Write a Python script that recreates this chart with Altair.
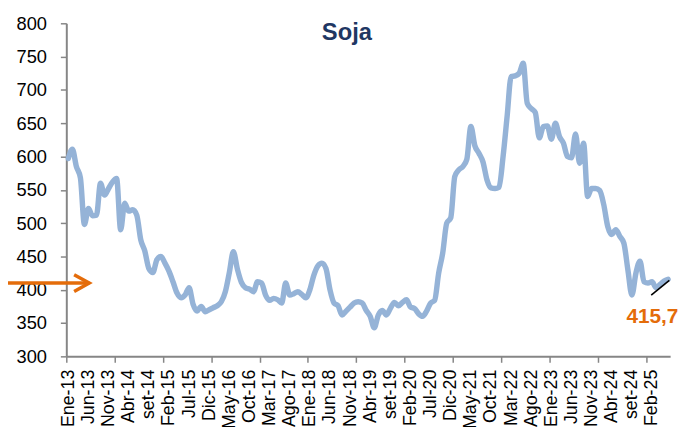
import json
import altair as alt
import pandas as pd

# ---------------- data ----------------
# Monthly soybean price, Jan-2013 .. Jun-2025 (index 0 = Ene-13)
prices = [
    597, 611, 585, 568, 498, 522, 511, 512, 560, 542, 552, 562,   # 2013
    567, 490, 530, 518, 520, 512, 475, 458, 432, 426, 445, 450,   # 2014
    440, 428, 412, 395, 388, 392, 403, 378, 368, 375, 367, 370,   # 2015
    373, 376, 382, 397, 426, 457, 431, 411, 403, 401, 397, 412,   # 2016
    410, 392, 384, 387, 385, 380, 410, 392, 394, 397, 393, 388,   # 2017
    400, 422, 436, 440, 432, 400, 380, 376, 362, 368, 374, 380,   # 2018
    382, 380, 369, 360, 343, 362, 369, 362, 372, 381, 376, 381,   # 2019
    385, 374, 372, 364, 360, 368, 380, 384, 425, 455, 500, 508,   # 2020
    570, 580, 585, 596, 645, 616, 605, 592, 565, 553, 552, 554,   # 2021
    600, 660, 720, 721, 725, 740, 680, 672, 666, 628, 645, 646,   # 2022
    626, 650, 630, 620, 600, 598, 634, 590, 620, 540, 552, 552,   # 2023
    549, 528, 495, 483, 490, 480, 470, 430, 392, 425, 443, 412,   # 2024
    410, 412, 403, 408, 413, 415.7,                               # 2025
]

tick_labels = [
    "Ene-13", "Jun-13", "Nov-13", "Abr-14", "set-14", "Feb-15", "Jul-15",
    "Dic-15", "May-16", "Oct-16", "Mar-17", "Ago-17", "Ene-18", "Jun-18",
    "Nov-18", "Abr-19", "set-19", "Feb-20", "Jul-20", "Dic-20", "May-21",
    "Oct-21", "Mar-22", "Ago-22", "Ene-23", "Jun-23", "Nov-23", "Abr-24",
    "set-24", "Feb-25",
]
label_step = 5
year_boundaries = [-0.5, 11.5, 23.5, 35.5, 47.5, 59.5, 71.5, 83.5, 95.5,
                   107.5, 119.5, 131.5, 143.5]
y_ticks = [300, 350, 400, 450, 500, 550, 600, 650, 700, 750, 800]

title_text = "Soja"
last_value_text = "415,7"

# annotations (in data units)
arrow_x = [-17, 5.2]
arrow_y = [410, 410]
leader_x = [144.8, 149.3]
leader_y = [392, 414]
label_pos = [145.1, 350]
title_pos = [69.2, 775]

# ---------------- styles ----------------
LINE_BLUE = "#95B3D7"
ORANGE = "#E46C0A"
NAVY = "#1F3763"
AXIS_GREY = "#868686"
FONT = "Liberation Sans"

n = len(prices)
df = pd.DataFrame({"i": list(range(n)), "precio": prices})

label_positions = [k * label_step for k in range(len(tick_labels))]
axis_values = sorted(label_positions + year_boundaries)
labels_js = json.dumps(tick_labels)
label_expr = (
    f"(datum.value % 1 == 0 && datum.value >= 0) ? "
    f"{labels_js}[round(datum.value / {label_step})] : ''"
)

x_scale = alt.Scale(domain=[-0.5, n - 0.5], nice=False, zero=False)
y_scale = alt.Scale(domain=[300, 800], nice=False, zero=False)

x_axis = alt.Axis(
    values=axis_values,
    labelExpr=label_expr,
    labelAngle=-90,
    labelOverlap=False,
    labelFlush=False,
    labelBound=False,
    labelFont=FONT,
    labelFontSize=18,
    labelColor="#000000",
    labelPadding=7,
    tickOpacity={"condition": {"test": "datum.value % 1 == 0", "value": 0}, "value": 1},
    tickSize=6,
    tickWidth=1.5,
    tickColor=AXIS_GREY,
    domainColor=AXIS_GREY,
    domainWidth=2,
    grid=False,
    title=None,
)
y_axis = alt.Axis(
    values=y_ticks,
    labelOverlap=False,
    labelFont=FONT,
    labelFontSize=18.5,
    labelColor="#000000",
    labelPadding=14,
    tickSize=6,
    tickWidth=1.5,
    tickColor=AXIS_GREY,
    domainColor=AXIS_GREY,
    domainWidth=2,
    grid=False,
    title=None,
)

X = alt.X("i:Q", scale=x_scale, axis=x_axis)
Y = alt.Y("precio:Q", scale=y_scale, axis=y_axis)

main = alt.Chart(df).mark_line(
    color=LINE_BLUE, strokeWidth=5.5, interpolate="monotone",
    strokeCap="round", strokeJoin="round",
).encode(x=X, y=Y)

leader_df = pd.DataFrame({"i": leader_x, "precio": leader_y})
leader = alt.Chart(leader_df).mark_line(color="#000000", strokeWidth=1.6).encode(x=X, y=Y)

arrow_df = pd.DataFrame({"i": arrow_x, "precio": arrow_y})
arrow_line = alt.Chart(arrow_df).mark_line(color=ORANGE, strokeWidth=3.5).encode(x=X, y=Y)
arrow_head = alt.Chart(arrow_df.iloc[[1]]).mark_point(
    shape="M -1.8 -1 L 0 0 L -1.8 1", filled=False, size=289,
    stroke=ORANGE, strokeWidth=3.5, opacity=1, strokeJoin="miter",
).encode(x=X, y=Y)

lab_df = pd.DataFrame({"i": [label_pos[0]], "precio": [label_pos[1]], "t": [last_value_text]})
last_label = alt.Chart(lab_df).mark_text(
    font=FONT, fontSize=21, fontWeight="bold", color=ORANGE,
    align="center", baseline="alphabetic",
).encode(x=X, y=Y, text="t:N")

title_df = pd.DataFrame({"i": [title_pos[0]], "precio": [title_pos[1]], "t": [title_text]})
title = alt.Chart(title_df).mark_text(
    font=FONT, fontSize=24, fontWeight="bold", color=NAVY,
    align="center", baseline="alphabetic",
).encode(x=X, y=Y, text="t:N")

chart = alt.layer(main, leader, arrow_line, arrow_head, last_label, title).properties(
    width=611,
    height=337,
    autosize=alt.AutoSizeParams(type="none"),
    padding={"left": 59, "top": 13, "right": 12, "bottom": 69},
    background="white",
).configure_view(stroke=None)

chart.save("out.html", embed_options={"renderer": "svg", "actions": False})
